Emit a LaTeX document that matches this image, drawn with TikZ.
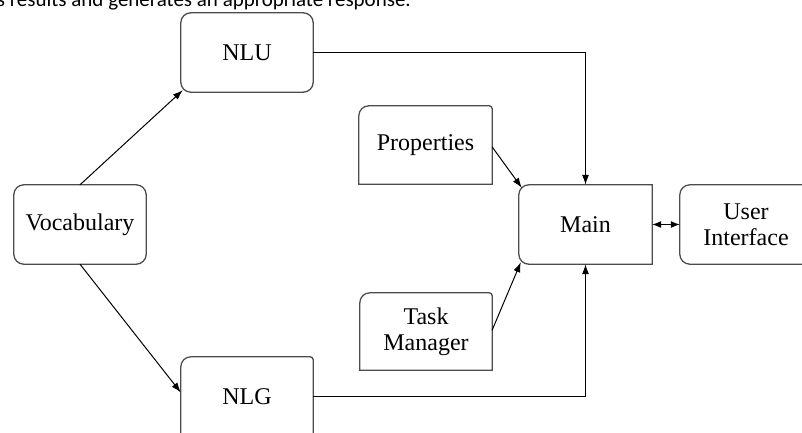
\documentclass[tikz,border=0pt]{standalone}
\usepackage{fontspec}
\setmainfont{Liberation Serif}
\newfontfamily\captionfont{Carlito}
\usetikzlibrary{arrows.meta,calc}
\begin{document}
\begin{tikzpicture}[x=1pt,y=-1pt,
  box/.style={draw=none,minimum width=132pt,minimum height=79pt,inner sep=0pt,align=center,font=\fontsize{24}{26}\selectfont},
  outline/.style={draw=black!70,line width=1.3pt},
  conn/.style={draw=black,line width=1pt,-{Latex[length=10pt,width=7pt]}},
  dconn/.style={draw=black,line width=1pt,{Latex[length=9pt,width=7pt]}-{Latex[length=9pt,width=7pt]}}
]
\useasboundingbox (0,0) rectangle (802,433);
\clip (0,0) rectangle (802,433);
\node[anchor=base east,inner sep=0pt,font=\captionfont\fontsize{21}{21}\selectfont] (cap) at (411,6.5) {s results and generates an appropriate response.};
\node[box] (nlu) at (247,52.5) {NLU};
\node[box] (voc) at (80,224.5) {Vocabulary};
\node[box] (nlg) at (247,396.5) {NLG};
\node[box,minimum width=133pt,minimum height=78pt] (prop) at (425.5,145) {Properties};
\node[box,minimum height=77pt] (tm) at (426,331.5) {Task\\Manager};
\node[box,minimum width=133pt] (main) at (585.5,224.5) {Main};
\node[box] (ui) at (746,224.5) {User\\Interface};
% outlines
\draw[outline,rounded corners=10pt] (nlu.south west) rectangle (nlu.north east);
\draw[outline,rounded corners=10pt] (voc.south west) rectangle (voc.north east);
\draw[outline] (nlg.south west) [rounded corners=10pt] -- (nlg.north west) [rounded corners=3pt] -- (nlg.north east) [sharp corners] -- (nlg.south east);
\draw[outline] (prop.south west) [rounded corners=10pt] -- (prop.north west) [rounded corners=3pt] -- (prop.north east) [sharp corners] -- (prop.south east) -- cycle;
\draw[outline] (tm.south west) [rounded corners=10pt] -- (tm.north west) [rounded corners=3pt] -- (tm.north east) [sharp corners] -- (tm.south east) -- cycle;
\draw[outline] (main.north east) [rounded corners=10pt] -- (main.north west) -- (main.south west) [sharp corners] -- (main.south east) -- cycle;
\draw[outline] (ui.north east) [rounded corners=10pt] -- (ui.north west) -- (ui.south west) [sharp corners] -- (ui.south east) -- cycle;
% connectors
\draw[conn] (voc.north) -- ($(nlu.south west)+(2,-2)$);
\draw[conn] (voc.south) -- ($(nlg.west)+(0,-4)$);
\draw[conn] (nlu.east) -| (main.north);
\draw[conn] (nlg.east) -| (main.south);
\draw[conn] ($(prop.east)+(0,2)$) -- ($(main.north west)+(3,3)$);
\draw[conn] ($(tm.east)+(0,-1.5)$) -- ($(main.south west)+(2,-2)$);
\draw[dconn] (main.east) -- (ui.west);
\end{tikzpicture}
\end{document}
